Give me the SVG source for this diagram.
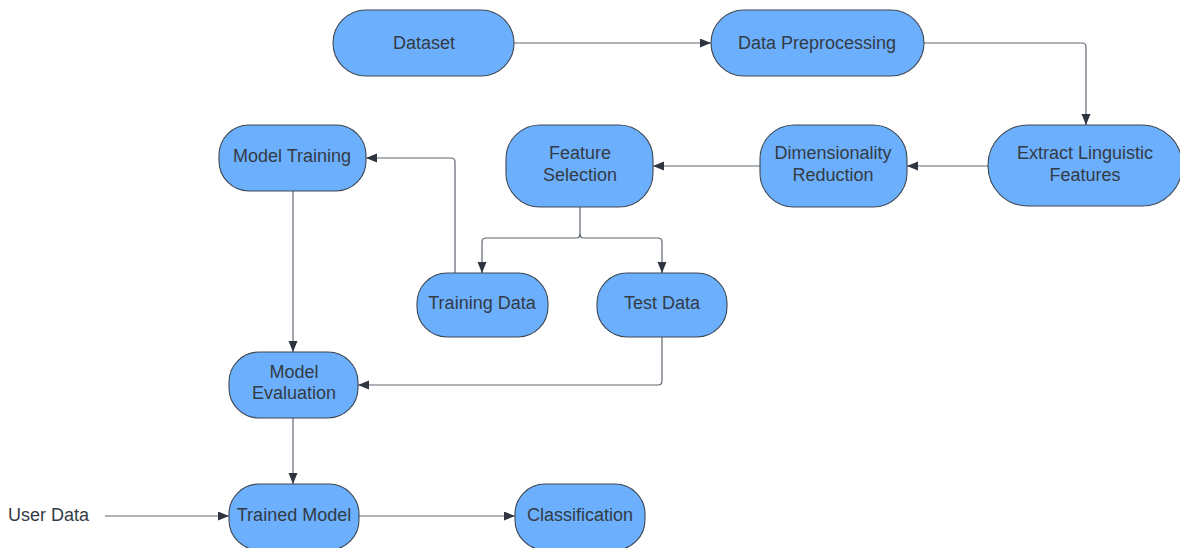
<svg xmlns="http://www.w3.org/2000/svg" width="1180" height="548" viewBox="0 0 1180 548">
<style>
.node rect{fill:#6cb0fd;stroke:#3d4752;stroke-width:1.1}
.node text,.label{font-family:"Liberation Sans",Arial,sans-serif;font-size:18px;fill:#333b46;text-anchor:middle}
.label{text-anchor:start}
.conn path{fill:none;stroke:#5f6873;stroke-width:1.2}
</style>
<defs>
<marker id="arr" markerUnits="userSpaceOnUse" markerWidth="12" markerHeight="10" refX="11" refY="4.5" orient="auto">
<path d="M0,0 L11,4.5 L0,9 z" fill="#2e3440"/>
</marker>
</defs>
<rect width="1180" height="548" fill="#ffffff"/>
<g class="conn" id="connectors">
<path d="M514,43 H711" marker-end="url(#arr)"/>
<path d="M924,43 H1082 Q1086,43 1086,47 V125" marker-end="url(#arr)"/>
<path d="M988,166 H907" marker-end="url(#arr)"/>
<path d="M760,166 H653" marker-end="url(#arr)"/>
<path d="M580,207 V234 Q580,238 576,238 H486 Q482,238 482,242 V273" marker-end="url(#arr)"/>
<path d="M580,234 Q580,238 584,238 H658 Q662,238 662,242 V273" marker-end="url(#arr)"/>
<path d="M455,273 V162 Q455,158 451,158 H366" marker-end="url(#arr)"/>
<path d="M293,191 V352" marker-end="url(#arr)"/>
<path d="M662,337 V381 Q662,385 658,385 H358" marker-end="url(#arr)"/>
<path d="M293,418 V484" marker-end="url(#arr)"/>
<path d="M105,516 H229" marker-end="url(#arr)"/>
<path d="M359,516 H515" marker-end="url(#arr)"/>
</g>
<g class="node" id="dataset"><rect x="333" y="10" width="181" height="66" rx="33"/><text x="424" y="49">Dataset</text></g>
<g class="node" id="data-preprocessing"><rect x="711" y="10" width="213" height="66" rx="33"/><text x="817" y="49">Data Preprocessing</text></g>
<g class="node" id="extract-linguistic-features"><rect x="988" y="125" width="194" height="81" rx="40"/><text x="1085" y="159">Extract Linguistic</text><text x="1085" y="181">Features</text></g>
<g class="node" id="dimensionality-reduction"><rect x="760" y="125" width="147" height="82" rx="34"/><text x="833" y="159">Dimensionality</text><text x="833" y="181">Reduction</text></g>
<g class="node" id="feature-selection"><rect x="506" y="125" width="147" height="82" rx="34"/><text x="580" y="159">Feature</text><text x="580" y="181">Selection</text></g>
<g class="node" id="model-training"><rect x="219" y="125" width="147" height="66" rx="30"/><text x="292" y="162">Model Training</text></g>
<g class="node" id="training-data"><rect x="417" y="273" width="131" height="64" rx="30"/><text x="482" y="309">Training Data</text></g>
<g class="node" id="test-data"><rect x="597" y="273" width="130" height="64" rx="30"/><text x="662" y="309">Test Data</text></g>
<g class="node" id="model-evaluation"><rect x="229" y="352" width="129" height="66" rx="30"/><text x="294" y="378">Model</text><text x="294" y="399">Evaluation</text></g>
<g class="node" id="trained-model"><rect x="229" y="484" width="130" height="66" rx="30"/><text x="294" y="521">Trained Model</text></g>
<g class="node" id="classification"><rect x="515" y="484" width="130" height="66" rx="30"/><text x="580" y="521">Classification</text></g>
<text class="label" x="8" y="521">User Data</text>
</svg>
